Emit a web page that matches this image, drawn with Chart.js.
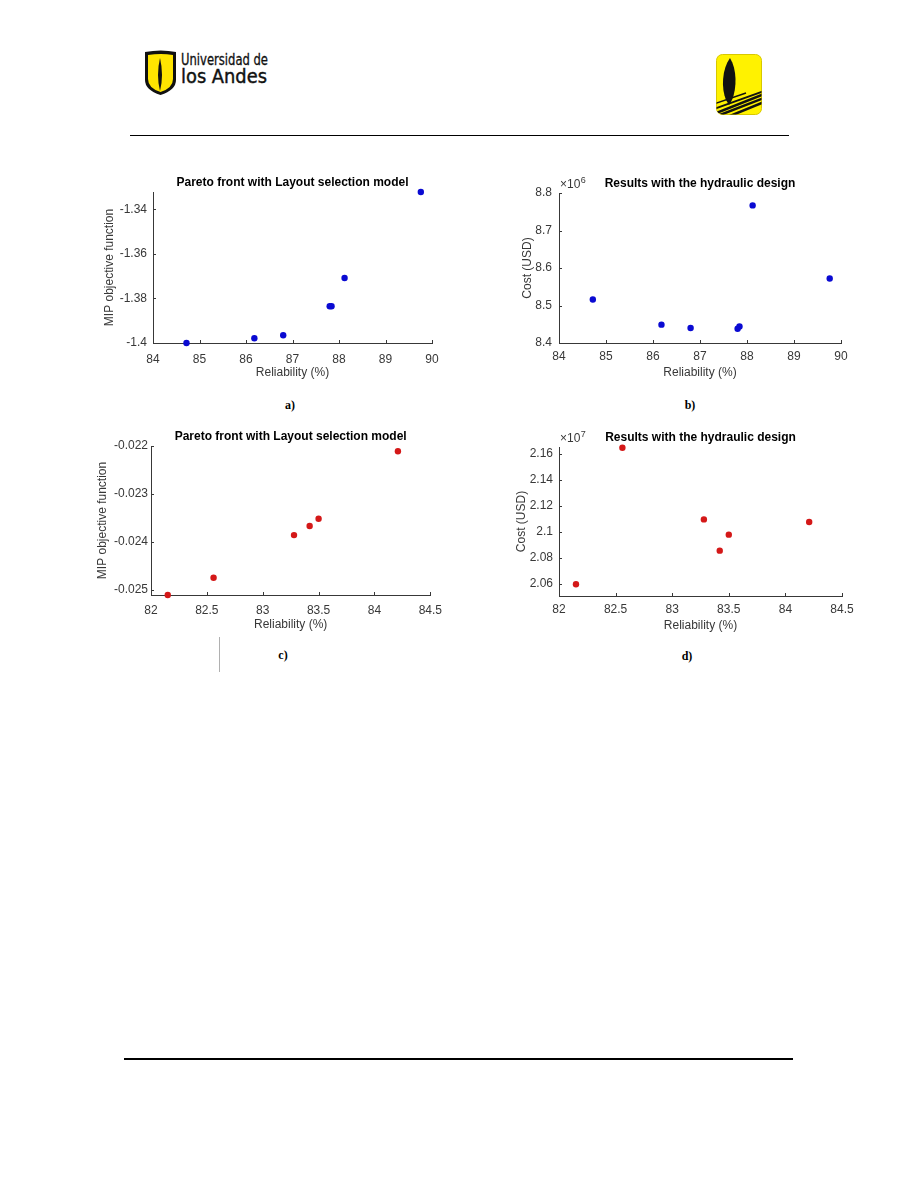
<!DOCTYPE html>
<html>
<head>
<meta charset="utf-8">
<script src="https://cdn.jsdelivr.net/npm/chart.js@4/dist/chart.umd.min.js"></script>
<style>
  body { margin: 0; background: #fff; }
  #page { position: relative; width: 918px; height: 1188px; background: #fff; overflow: hidden; }
  canvas { position: absolute; }
  .legende { position: absolute; font: bold 12px "Liberation Serif", "Times New Roman", serif; color: #000; transform: translate(-50%, -50%); }
  .trait { position: absolute; background: #000; }
</style>
</head>
<body>
<div id="page">
  <!-- logo Uniandes -->
  <svg style="position:absolute;left:145px;top:50px" width="32" height="46" viewBox="0 0 32 46">
    <path d="M0,2 Q16,-1 31,2 L31,30 Q31,40 15.5,45 Q0,40 0,30 Z" fill="#111"/>
    <path d="M3,5 Q16,3 28,5 L28,29 Q28,38 15.5,42 Q3,38 3,29 Z" fill="#ffe500"/>
    <path d="M15,8 Q11,25 15,41 Q19,25 15,8 Z" fill="#111"/>
  </svg>
  <svg style="position:absolute;left:180px;top:48px" width="95" height="40">
    <text x="1" y="17" font-family="DejaVu Sans Condensed, DejaVu Sans, sans-serif" font-size="15" fill="#111" stroke="#111" stroke-width="0.3" textLength="87" lengthAdjust="spacingAndGlyphs">Universidad de</text>
    <text x="1" y="35" font-family="DejaVu Sans Condensed, DejaVu Sans, sans-serif" font-size="20" fill="#111" stroke="#111" stroke-width="0.4" textLength="86" lengthAdjust="spacingAndGlyphs">los Andes</text>
  </svg>
  <!-- logo droit -->
  <svg style="position:absolute;left:716px;top:54px" width="47" height="62" viewBox="0 0 47 62">
    <defs><clipPath id="cadre"><rect x="0.5" y="0.5" width="45" height="60" rx="6"/></clipPath></defs>
    <rect x="0.5" y="0.5" width="45" height="60" rx="6" fill="#fff200" stroke="#d8c800" stroke-width="1"/>
    <g clip-path="url(#cadre)" stroke="#111" fill="none">
      <path d="M-2,60 L48,40" stroke-width="2.5"/>
      <path d="M-2,55 L48,37" stroke-width="2"/>
      <path d="M4,61 L48,44" stroke-width="2.5"/>
      <path d="M14,62 L48,48" stroke-width="2.5"/>
      <path d="M-2,50 L30,39" stroke-width="1.5"/>
    </g>
    <path d="M14,4 C6,15 5,34 10,46 L13,51 L16,46 C21,34 21,15 14,4 Z" fill="#111"/>
  </svg>
  <div class="trait" style="left:130px;top:135px;width:659px;height:1px"></div>

  <canvas id="grapheA" width="355" height="225" style="left:95px;top:165px"></canvas>
  <canvas id="grapheB" width="370" height="225" style="left:490px;top:165px"></canvas>
  <canvas id="grapheC" width="365" height="222" style="left:85px;top:420px"></canvas>
  <canvas id="grapheD" width="370" height="223" style="left:490px;top:420px"></canvas>

  <div class="legende" style="left:290px;top:405px">a)</div>
  <div class="legende" style="left:690px;top:405px">b)</div>
  <div class="legende" style="left:283px;top:655px">c)</div>
  <div class="legende" style="left:687px;top:656px">d)</div>
  <div class="trait" style="left:219px;top:637px;width:1px;height:35px;background:#b0b0b0"></div>

  <div class="trait" style="left:124px;top:1058px;width:669px;height:1.5px"></div>
</div>

<script>
// valeurs
const fiabiliteAB = [84.72, 86.18, 86.80, 87.80, 87.84, 88.12, 89.76];
const objectifA = [-1.4000, -1.3979, -1.3965, -1.3835, -1.3835, -1.3708, -1.3322];
const coutB = [8516000, 8449000, 8440000, 8438000, 8444000, 8767000, 8572000];

const fiabiliteCD = [82.15, 82.56, 83.28, 83.42, 83.50, 84.21];
const objectifC = [-0.02511, -0.02475, -0.02386, -0.02367, -0.02352, -0.02211];
const coutD = [20597000, 21645000, 21095000, 20855000, 20978000, 21075000];

// graduations
const ticksXAB = [84, 85, 86, 87, 88, 89, 90];
const ticksYA = [-1.4, -1.38, -1.36, -1.34];
const ticksYB = [8400000, 8500000, 8600000, 8700000, 8800000];
const ticksXCD = [82, 82.5, 83, 83.5, 84, 84.5];
const ticksYC = [-0.025, -0.024, -0.023, -0.022];
const ticksYD = [20600000, 20800000, 21000000, 21200000, 21400000, 21600000];

const gris = "#383838";
const police = { family: '"Liberation Sans", Arial, sans-serif', size: 12 };

// titre centré sur les axes + exposant x10^n (style MATLAB)
const titreAxes = {
  id: "titreAxes",
  afterDraw(chart, args, opts) {
    const { ctx, chartArea } = chart;
    ctx.save();
    ctx.font = 'bold 12px "Liberation Sans", Arial, sans-serif';
    ctx.fillStyle = "#000";
    ctx.textAlign = "center";
    ctx.textBaseline = "middle";
    ctx.fillText(opts.texte, (chartArea.left + chartArea.right) / 2, chartArea.top - 9.5);
    if (opts.puissance) {
      ctx.fillStyle = gris;
      ctx.textAlign = "left";
      ctx.textBaseline = "alphabetic";
      ctx.font = '12px "Liberation Sans", Arial, sans-serif';
      const base = "\u00d710";
      ctx.fillText(base, chartArea.left + 1, chartArea.top - 5);
      const w = ctx.measureText(base).width;
      ctx.font = '9px "Liberation Sans", Arial, sans-serif';
      ctx.fillText(String(opts.puissance), chartArea.left + 1 + w + 0.5, chartArea.top - 10);
    }
    ctx.restore();
  }
};

// petits repères tournés vers l'intérieur
const reperesInternes = {
  id: "reperesInternes",
  afterDraw(chart) {
    const { ctx, chartArea, scales } = chart;
    ctx.save();
    ctx.strokeStyle = gris;
    ctx.lineWidth = 1;
    scales.x.ticks.forEach(t => {
      const px = Math.round(scales.x.getPixelForValue(t.value)) + 0.5;
      ctx.beginPath();
      ctx.moveTo(px, chartArea.bottom);
      ctx.lineTo(px, chartArea.bottom - 3);
      ctx.stroke();
    });
    scales.y.ticks.forEach(t => {
      const py = Math.round(scales.y.getPixelForValue(t.value)) + 0.5;
      ctx.beginPath();
      ctx.moveTo(chartArea.left, py);
      ctx.lineTo(chartArea.left + 3, py);
      ctx.stroke();
    });
    ctx.restore();
  }
};

function nuage(id, c) {
  new Chart(document.getElementById(id), {
    type: "scatter",
    data: {
      datasets: [{
        data: c.x.map((v, i) => ({ x: v, y: c.y[i] })),
        backgroundColor: c.couleur,
        pointRadius: 3.2,
        pointBorderWidth: 0,
        clip: false
      }]
    },
    options: {
      responsive: false,
      animation: false,
      layout: { padding: { top: c.haut, right: c.droite, left: 0, bottom: 0 } },
      plugins: {
        legend: { display: false },
        tooltip: { enabled: false },
        titreAxes: { texte: c.titre, puissance: c.puissance }
      },
      scales: {
        x: {
          type: "linear",
          min: c.xMin,
          max: c.xMax,
          afterBuildTicks: s => { s.ticks = c.ticksX.map(v => ({ value: v })); },
          afterFit: s => { s.height = 47; },
          grid: { display: false, drawTicks: false },
          border: { color: gris, width: 1 },
          ticks: { color: gris, font: police, padding: c.padX, maxRotation: 0, callback: v => String(+v.toFixed(2)) },
          title: { display: true, text: "Reliability (%)", color: gris, font: police, padding: { top: 0, bottom: 10 } }
        },
        y: {
          type: "linear",
          min: c.yMin,
          max: c.yMax,
          afterBuildTicks: s => { s.ticks = c.ticksY.map(v => ({ value: v })); },
          afterFit: s => { s.width = c.largeurY; },
          grid: { display: false, drawTicks: false },
          border: { color: gris, width: 1 },
          ticks: { color: gris, font: police, padding: c.padY, callback: v => String(+(v / c.echelle).toFixed(4)) },
          title: { display: true, text: c.titreY, color: gris, font: police, padding: { top: c.padTitreY, bottom: 0 } }
        }
      }
    },
    plugins: [titreAxes, reperesInternes]
  });
}

nuage("grapheA", {
  x: fiabiliteAB, y: objectifA, couleur: "#0a0ad2",
  titre: "Pareto front with Layout selection model", titreY: "MIP objective function",
  xMin: 84, xMax: 90, yMin: -1.4, yMax: -1.3322, ticksX: ticksXAB, ticksY: ticksYA, echelle: 1,
  haut: 27, droite: 18, largeurY: 58, padX: 9, padY: 6, padTitreY: 7.8
});

nuage("grapheB", {
  x: fiabiliteAB, y: coutB, couleur: "#0a0ad2",
  titre: "Results with the hydraulic design", titreY: "Cost (USD)", puissance: 6,
  xMin: 84, xMax: 90, yMin: 8400000, yMax: 8800000, ticksX: ticksXAB, ticksY: ticksYB, echelle: 1e6,
  haut: 28, droite: 19, largeurY: 69, padX: 6, padY: 7, padTitreY: 30.8
});

nuage("grapheC", {
  x: fiabiliteCD, y: objectifC, couleur: "#d41818",
  titre: "Pareto front with Layout selection model", titreY: "MIP objective function",
  xMin: 82, xMax: 84.5, yMin: -0.02511, yMax: -0.022, ticksX: ticksXCD, ticksY: ticksYC, echelle: 1,
  haut: 26, droite: 18, largeurY: 66, padX: 8, padY: 3, padTitreY: 10.8
});

nuage("grapheD", {
  x: fiabiliteCD, y: coutD, couleur: "#d41818",
  titre: "Results with the hydraulic design", titreY: "Cost (USD)", puissance: 7,
  xMin: 82, xMax: 84.5, yMin: 20507000, yMax: 21651000, ticksX: ticksXCD, ticksY: ticksYD, echelle: 1e7,
  haut: 27, droite: 18, largeurY: 69, padX: 6, padY: 6, padTitreY: 24.5
});
</script>
</body>
</html>
